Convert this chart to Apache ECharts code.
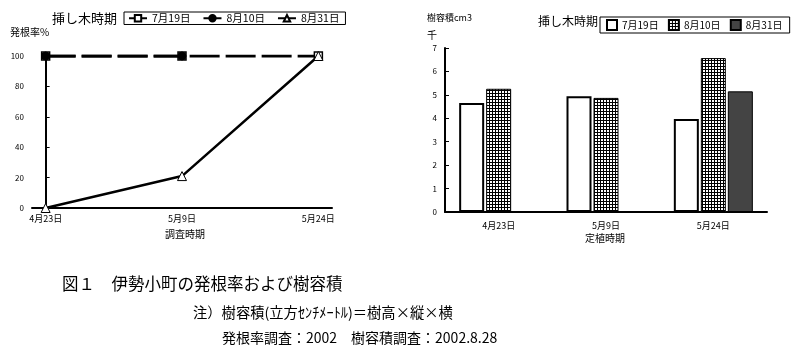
<!DOCTYPE html>
<html><head><meta charset="utf-8">
<script src="https://cdn.jsdelivr.net/npm/echarts@6/dist/echarts.min.js"></script>
<style>html,body{margin:0;padding:0;background:#fff}#c{width:794px;height:358px}</style>
</head><body><div id="c"></div>
<script>
const lineCats = ['4月23日', '5月9日', '5月24日'];
const lineSeriesNames = ['7月19日', '8月10日', '8月31日'];
const rate0719 = [100, 100, 100];
const rate0810 = [100, 100, null];
const rate0831 = [0, 21, 100];

const barCats = ['4月23日', '5月9日', '5月24日'];
const barSeriesNames = ['7月19日 ', '8月10日 ', '8月31日 '];
const vol0719 = [4.65, 4.94, 3.97];
const vol0810 = [5.26, 4.87, 6.57];
const vol0831 = [null, null, 5.15];

const FONT = '"Noto Sans CJK JP", sans-serif';

function gridPattern() {
  const c = document.createElement('canvas');
  c.width = 3; c.height = 3;
  const g = c.getContext('2d');
  g.fillStyle = '#fff'; g.fillRect(0, 0, 3, 3);
  g.fillStyle = '#000'; g.fillRect(0, 0, 3, 1); g.fillRect(0, 0, 1, 3);
  return c;
}
const pat = { image: gridPattern(), repeat: 'repeat' };

const chart = echarts.init(document.getElementById('c'), null, { renderer: 'canvas' });
const toXY = arr => arr.map((v, i) => [i, v]);

const option = {
  backgroundColor: '#fff',
  animation: false,
  textStyle: { fontFamily: FONT, color: '#000' },
  grid: [
    { left: 32, top: 56, width: 300, height: 152 },
    { left: 445, top: 48, width: 322, height: 164 }
  ],
  legend: [
    {
      data: lineSeriesNames, left: 124, top: 12, orient: 'horizontal', width: 250,
      borderColor: '#000', borderWidth: 1, padding: [1, 6, 1, 4], itemGap: 12,
      itemWidth: 18, itemHeight: 8,
      textStyle: { fontSize: 10.5, fontFamily: FONT, color: '#000' }
    },
    {
      data: barSeriesNames.map(n => ({ name: n, icon: 'rect' })), left: 600, top: 17, orient: 'horizontal', width: 200,
      borderColor: '#000', borderWidth: 1, padding: [2, 5, 2, 6], itemGap: 7,
      itemWidth: 10, itemHeight: 10,
      textStyle: { fontSize: 10, fontFamily: FONT, color: '#000' }
    }
  ],
  xAxis: [
    {
      gridIndex: 0, type: 'value', min: -0.1, max: 2.1, splitNumber: 2,
      axisLine: { lineStyle: { color: '#000', width: 2 } },
      axisTick: { show: false }, splitLine: { show: false },
      axisLabel: {
        fontSize: 9, color: '#000', margin: 6, fontFamily: FONT,
        formatter: v => (Number.isInteger(v) && lineCats[v] !== undefined) ? lineCats[v] : ''
      }
    },
    {
      gridIndex: 1, type: 'category', data: barCats,
      axisLine: { lineStyle: { color: '#000', width: 2 } },
      axisTick: { show: false },
      axisLabel: { fontSize: 9, color: '#000', margin: 9, fontFamily: FONT }
    }
  ],
  yAxis: [
    {
      gridIndex: 0, type: 'value', min: 0, max: 100, interval: 20,
      axisLine: { show: true, lineStyle: { color: '#000', width: 2 } },
      axisTick: { show: true, inside: true, length: 4, lineStyle: { color: '#000', width: 1 } },
      splitLine: { show: false },
      axisLabel: { fontSize: 8, color: '#000', margin: 8, fontFamily: FONT }
    },
    {
      gridIndex: 1, type: 'value', min: 0, max: 7, interval: 1,
      axisLine: { show: true, lineStyle: { color: '#000', width: 2 } },
      axisTick: { show: true, inside: true, length: 4, lineStyle: { color: '#000', width: 1 } },
      splitLine: { show: false },
      axisLabel: { fontSize: 8, color: '#000', margin: 8, fontFamily: FONT }
    }
  ],
  series: [
    {
      name: lineSeriesNames[0], type: 'line', xAxisIndex: 0, yAxisIndex: 0,
      data: toXY(rate0719), symbol: 'rect', symbolSize: 8, z: 3,
      lineStyle: { color: '#000', width: 3, type: [30, 6] },
      itemStyle: { color: '#fff', borderColor: '#000', borderWidth: 1.5 }
    },
    {
      name: lineSeriesNames[1], type: 'line', xAxisIndex: 0, yAxisIndex: 0,
      data: toXY(rate0810), symbol: 'circle', symbolSize: 8, z: 4,
      lineStyle: { color: '#000', width: 3, type: [30, 6] },
      itemStyle: { color: '#000', borderColor: '#000', borderWidth: 1 }
    },
    {
      name: lineSeriesNames[2], type: 'line', xAxisIndex: 0, yAxisIndex: 0,
      data: toXY(rate0831), symbol: 'triangle', symbolSize: 9, z: 5,
      lineStyle: { color: '#000', width: 2.5 },
      itemStyle: { color: '#fff', borderColor: '#000', borderWidth: 1 }
    },
    {
      name: barSeriesNames[0], type: 'bar', xAxisIndex: 1, yAxisIndex: 1,
      data: vol0719, barWidth: 25, barGap: '8%',
      itemStyle: { color: '#fff', borderColor: '#000', borderWidth: 2 }
    },
    {
      name: barSeriesNames[1], type: 'bar', xAxisIndex: 1, yAxisIndex: 1,
      data: vol0810, barWidth: 25, barGap: '8%',
      itemStyle: { color: pat, borderColor: '#000', borderWidth: 1 }
    },
    {
      name: barSeriesNames[2], type: 'bar', xAxisIndex: 1, yAxisIndex: 1,
      data: vol0831, barWidth: 25, barGap: '8%',
      itemStyle: { color: '#444', borderColor: '#000', borderWidth: 1 }
    }
  ],
  graphic: [
    { type: 'text', left: 52, top: 12, style: { text: '挿し木時期', fontSize: 13, fontFamily: FONT, fill: '#000' } },
    { type: 'text', left: 10, top: 27, style: { text: '発根率%', fontSize: 10, fontFamily: FONT, fill: '#000' } },
    { type: 'text', left: 165, top: 229, style: { text: '調査時期', fontSize: 10, fontFamily: FONT, fill: '#000' } },
    { type: 'text', left: 538, top: 15, style: { text: '挿し木時期', fontSize: 12, fontFamily: FONT, fill: '#000' } },
    { type: 'text', left: 427, top: 13, style: { text: '樹容積cm3', fontSize: 9, fontFamily: FONT, fill: '#000' } },
    { type: 'text', left: 427, top: 30, style: { text: '千', fontSize: 10, fontFamily: FONT, fill: '#000' } },
    { type: 'text', left: 585, top: 233, style: { text: '定植時期', fontSize: 10, fontFamily: FONT, fill: '#000' } },
    { type: 'text', left: 62, top: 275, style: { text: '図１　伊勢小町の発根率および樹容積', fontSize: 16.5, fontFamily: FONT, fill: '#000' } },
    { type: 'text', left: 193, top: 305, style: { text: '注）樹容積(立方ｾﾝﾁﾒｰﾄﾙ)＝樹高×縦×横', fontSize: 14.3, fontFamily: FONT, fill: '#000' } },
    { type: 'text', left: 222, top: 331, style: { text: '発根率調査：2002　樹容積調査：2002.8.28', fontSize: 14, fontFamily: FONT, fill: '#000' } }
  ]
};
chart.setOption(option);
</script>
</body></html>
